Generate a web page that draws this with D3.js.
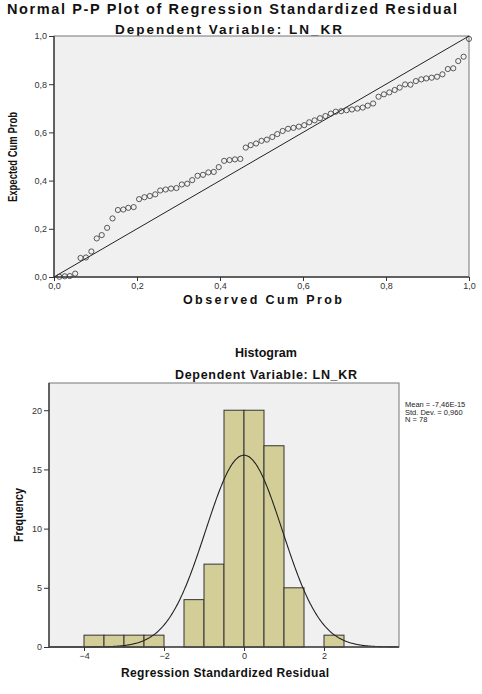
<!DOCTYPE html>
<html lang="en">
<head>
<meta charset="UTF-8">
<title>Regression residual plots</title>
<style>
  body { margin: 0; background: #fff; }
  svg { display: block; font-family: "Liberation Sans", Arial, sans-serif; }
  .tick text { fill: #333; font-size: 9px; }
  .tick line { stroke: #333; }
  .ttl { font-weight: bold; fill: #111; }
</style>
</head>
<body>
<svg id="chart" width="482" height="694"></svg>
<script src="https://cdnjs.cloudflare.com/ajax/libs/d3/7.9.0/d3.min.js"></script>
<script>
// P-P plot: observed vs expected cumulative probability (78 residuals)
const ppObserved = [
  0.013, 0.026, 0.038, 0.051, 0.064, 0.077, 0.090, 0.103, 0.115, 0.128,
  0.141, 0.154, 0.167, 0.179, 0.192, 0.205, 0.218, 0.231, 0.244, 0.256,
  0.269, 0.282, 0.295, 0.308, 0.321, 0.333, 0.346, 0.359, 0.372, 0.385,
  0.397, 0.410, 0.423, 0.436, 0.449, 0.462, 0.474, 0.487, 0.500, 0.513,
  0.526, 0.538, 0.551, 0.564, 0.577, 0.590, 0.603, 0.615, 0.628, 0.641,
  0.654, 0.667, 0.679, 0.692, 0.705, 0.718, 0.731, 0.744, 0.756, 0.769,
  0.782, 0.795, 0.808, 0.821, 0.833, 0.846, 0.859, 0.872, 0.885, 0.897,
  0.910, 0.923, 0.936, 0.949, 0.962, 0.974, 0.987, 1.000
];
const ppExpected = [
  0.001, 0.003, 0.004, 0.014, 0.079, 0.081, 0.106, 0.160, 0.174, 0.204,
  0.243, 0.278, 0.280, 0.287, 0.290, 0.323, 0.331, 0.336, 0.343, 0.359,
  0.363, 0.367, 0.369, 0.384, 0.387, 0.402, 0.420, 0.424, 0.434, 0.436,
  0.456, 0.482, 0.485, 0.488, 0.490, 0.537, 0.547, 0.554, 0.565, 0.570,
  0.581, 0.593, 0.606, 0.615, 0.619, 0.624, 0.630, 0.642, 0.650, 0.659,
  0.668, 0.678, 0.686, 0.688, 0.692, 0.695, 0.699, 0.703, 0.711, 0.720,
  0.748, 0.758, 0.766, 0.776, 0.786, 0.799, 0.798, 0.813, 0.820, 0.824,
  0.827, 0.831, 0.841, 0.863, 0.866, 0.896, 0.914, 0.988
];
const ppTicks = [0, 0.2, 0.4, 0.6, 0.8, 1.0];

// Histogram: bins of width 0.5
const binStarts = [-4, -3.5, -3, -2.5, -2, -1.5, -1, -0.5, 0, 0.5, 1, 1.5, 2];
const binCounts = [1, 1, 1, 1, 0, 4, 7, 20, 20, 17, 5, 0, 1];
const binWidth = 0.5;
const histXTicks = [-4, -2, 0, 2];
const histYTicks = [0, 5, 10, 15, 20];
const resMean = -7.46e-15;
const resSd = 0.960;
const resN = 78;
const statLines = ["Mean = -7,46E-15", "Std. Dev. = 0,960", "N = 78"];

const svg = d3.select("#chart");
const comma = d => d3.format(".1f")(d).replace(".", ",");

// ---------- P-P plot ----------
const px = d3.scaleLinear().domain([0, 1]).range([54, 469]);
const py = d3.scaleLinear().domain([0, 1]).range([277, 36]);

svg.append("text").attr("class", "ttl")
  .attr("x", 7).attr("y", 14)
  .attr("font-size", 14.5)
  .attr("textLength", 450).attr("lengthAdjust", "spacing")
  .text("Normal P-P Plot of Regression Standardized Residual");
svg.append("text").attr("class", "ttl")
  .attr("x", 115).attr("y", 33.5)
  .attr("font-size", 13.5)
  .attr("textLength", 227).attr("lengthAdjust", "spacing")
  .text("Dependent Variable: LN_KR");

svg.append("rect")
  .attr("x", px(0)).attr("y", py(1))
  .attr("width", px(1) - px(0)).attr("height", py(0) - py(1))
  .attr("fill", "#f0f0f0").attr("stroke", "#777").attr("stroke-width", 1);

svg.append("g")
  .attr("transform", `translate(0,${py(0)})`)
  .call(d3.axisBottom(px).tickValues(ppTicks).tickFormat(comma).tickSize(4).tickPadding(2))
  .call(g => g.select(".domain").attr("stroke", "#444").attr("stroke-width", 1.5).attr("d", `M${px(0)},0H${px(1)}`));
svg.append("g")
  .attr("transform", `translate(${px(0)},0)`)
  .call(d3.axisLeft(py).tickValues(ppTicks).tickFormat(comma).tickSize(5).tickPadding(2))
  .call(g => g.select(".domain").attr("stroke", "#444").attr("stroke-width", 1.5).attr("d", `M0,${py(0)}V${py(1)}`));

svg.append("line")
  .attr("x1", px(0)).attr("y1", py(0)).attr("x2", px(1)).attr("y2", py(1))
  .attr("stroke", "#222").attr("stroke-width", 1);

svg.append("g").selectAll("circle")
  .data(ppObserved.map((o, i) => [o, ppExpected[i]]))
  .join("circle")
  .attr("cx", d => px(d[0])).attr("cy", d => py(d[1]))
  .attr("r", 2.6)
  .attr("fill", "none").attr("stroke", "#333").attr("stroke-width", 0.8);

svg.append("text").attr("class", "ttl")
  .attr("x", 183).attr("y", 304)
  .attr("font-size", 12.5)
  .attr("textLength", 159).attr("lengthAdjust", "spacing")
  .text("Observed Cum Prob");
svg.append("text").attr("class", "ttl")
  .attr("transform", "translate(17,202) rotate(-90)")
  .attr("font-size", 13)
  .attr("textLength", 90).attr("lengthAdjust", "spacingAndGlyphs")
  .text("Expected Cum Prob");

// ---------- Histogram ----------
const hx = d3.scaleLinear().domain([-4.875, 3.875]).range([49, 399]);
const hy = d3.scaleLinear().domain([0, 22.3]).range([647, 383]);

svg.append("text").attr("class", "ttl")
  .attr("x", 266).attr("y", 357).attr("text-anchor", "middle")
  .attr("font-size", 12.5)
  .text("Histogram");
svg.append("text").attr("class", "ttl")
  .attr("x", 175).attr("y", 379)
  .attr("font-size", 12.5)
  .attr("textLength", 182).attr("lengthAdjust", "spacing")
  .text("Dependent Variable: LN_KR");

svg.append("rect")
  .attr("x", hx.range()[0]).attr("y", hy.range()[1])
  .attr("width", hx.range()[1] - hx.range()[0]).attr("height", hy.range()[0] - hy.range()[1])
  .attr("fill", "#f0f0f0").attr("stroke", "#777").attr("stroke-width", 1);

svg.append("g").selectAll("rect")
  .data(binStarts.map((s, i) => ({ s, c: binCounts[i] })).filter(d => d.c > 0))
  .join("rect")
  .attr("x", d => hx(d.s)).attr("y", d => hy(d.c))
  .attr("width", d => hx(d.s + binWidth) - hx(d.s))
  .attr("height", d => hy(0) - hy(d.c))
  .attr("fill", "#d3ce97").attr("stroke", "#333").attr("stroke-width", 1);

// fitted normal curve from the reported mean, sd and N
const curveX = d3.range(-4.875, 3.876, 0.025);
const dens = x => resN * binWidth / (resSd * Math.sqrt(2 * Math.PI)) *
  Math.exp(-0.5 * Math.pow((x - resMean) / resSd, 2));
svg.append("path")
  .datum(curveX)
  .attr("d", d3.line().x(d => hx(d)).y(d => hy(dens(d))).curve(d3.curveBasis))
  .attr("fill", "none").attr("stroke", "#222").attr("stroke-width", 1.1);

svg.append("g")
  .attr("transform", `translate(0,${hy(0)})`)
  .call(d3.axisBottom(hx).tickValues(histXTicks).tickSize(4).tickPadding(2))
  .call(g => g.select(".domain").attr("stroke", "#444").attr("stroke-width", 1.5).attr("d", `M${hx.range()[0]},0H${hx.range()[1]}`));
svg.append("g")
  .attr("transform", `translate(${hx.range()[0]},0)`)
  .call(d3.axisLeft(hy).tickValues(histYTicks).tickSize(5).tickPadding(2))
  .call(g => g.select(".domain").attr("stroke", "#444").attr("stroke-width", 1.5).attr("d", `M0,${hy(0)}V${hy.range()[1]}`));

svg.append("g").selectAll("text")
  .data(statLines)
  .join("text")
  .attr("x", 405).attr("y", (d, i) => 407 + i * 7.5)
  .attr("font-size", 7.5).attr("fill", "#222")
  .text(d => d);

svg.append("text").attr("class", "ttl")
  .attr("x", 121).attr("y", 677)
  .attr("font-size", 12)
  .attr("textLength", 208).attr("lengthAdjust", "spacing")
  .text("Regression Standardized Residual");
svg.append("text").attr("class", "ttl")
  .attr("transform", "translate(23,542) rotate(-90)")
  .attr("font-size", 12)
  .attr("textLength", 54).attr("lengthAdjust", "spacingAndGlyphs")
  .text("Frequency");
</script>
</body>
</html>
